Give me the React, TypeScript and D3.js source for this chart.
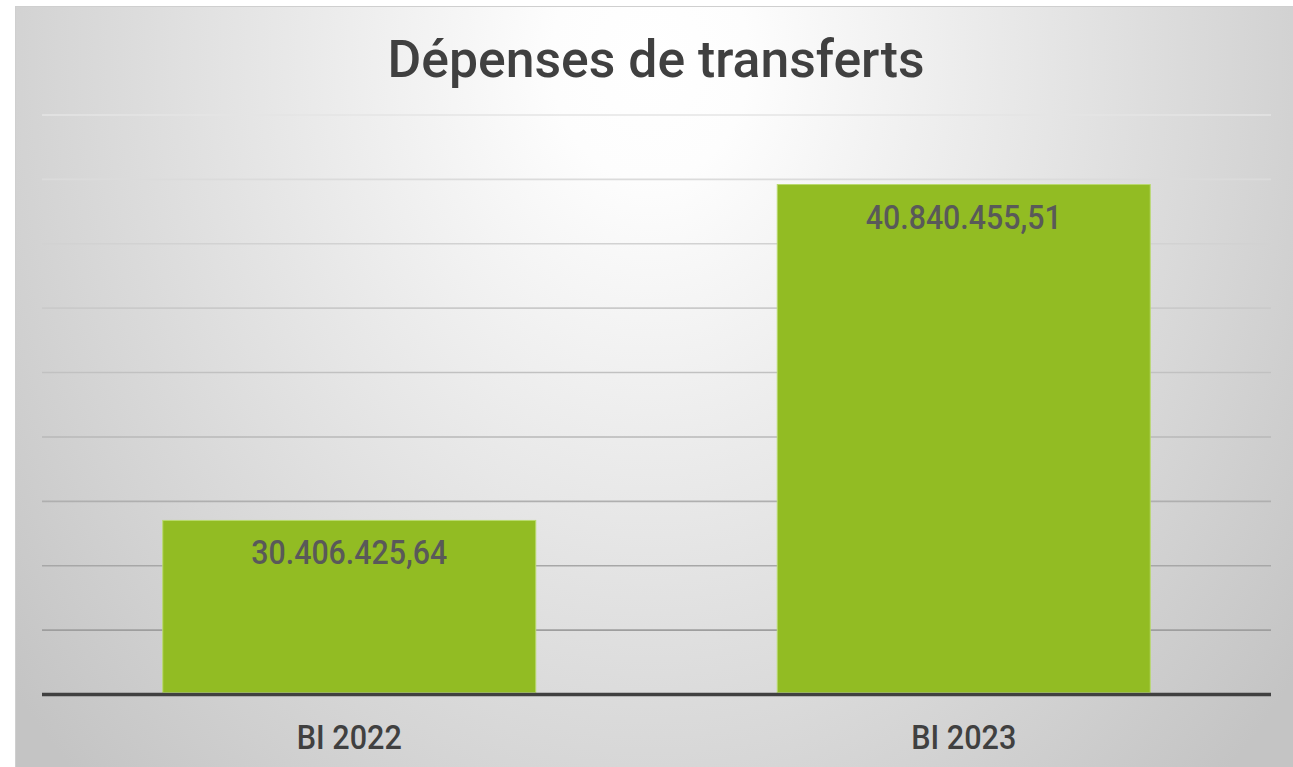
import React from "react";
import * as d3 from "d3";

const categories = ["BI 2022", "BI 2023"];
const values = [30406425.64, 40840455.51];
const valueLabels = ["30.406.425,64", "40.840.455,51"];
const yTicks = [25e6, 27e6, 29e6, 31e6, 33e6, 35e6, 37e6, 39e6, 41e6, 43e6];
const title = "Dépenses de transferts";

const W = 1293;
const H = 767;

export default function App() {
  const plotLeft = 42;
  const plotRight = 1271;
  const plotTop = 115;
  const plotBottom = 694.5;

  const x = d3
    .scaleBand<string>()
    .domain(categories)
    .range([plotLeft, plotRight])
    .paddingInner(0.393)
    .paddingOuter(0.1965);
  const y = d3.scaleLinear().domain([25e6, 43e6]).range([plotBottom, plotTop]);
  const gridColor = d3.scaleLinear<string>().domain([plotTop, plotBottom]).range(["#e4e4e4", "#959595"]);

  const font = "Roboto, 'DejaVu Sans', sans-serif";

  return (
    <svg
      width={W}
      height={H}
      viewBox={`0 0 ${W} ${H}`}
      style={{ position: "absolute", left: 0, top: 0, background: "#ffffff" }}
    >
      <defs>
        <radialGradient
          id="bg"
          gradientUnits="userSpaceOnUse"
          cx={650}
          cy={60}
          r={820}
          gradientTransform="translate(650,60) scale(1,1.22) translate(-650,-60)"
        >
          <stop offset="0" stopColor="#ffffff" />
          <stop offset="0.12" stopColor="#fdfdfd" />
          <stop offset="1" stopColor="#c4c4c4" />
        </radialGradient>
      </defs>
      <rect x={15.5} y={6.5} width={1290} height={770} fill="url(#bg)" stroke="#cfcfcf" strokeWidth={1} />

      <text
        x={656}
        y={77}
        textAnchor="middle"
        fontFamily={font}
        fontWeight={500}
        fontSize={52}
        fill="#404040"
        textLength={537}
        lengthAdjust="spacingAndGlyphs"
      >
        {title}
      </text>

      {yTicks.slice(1).map((t) => (
        <line
          key={t}
          x1={plotLeft}
          x2={plotRight}
          y1={y(t)}
          y2={y(t)}
          stroke={gridColor(y(t))}
          strokeWidth={1.6}
        />
      ))}

      {categories.map((c, i) => (
        <rect
          key={c}
          x={x(c)!}
          y={y(values[i])}
          width={x.bandwidth()}
          height={plotBottom - 2 - y(values[i])}
          fill="#92bc23"
          stroke="#b9da6e"
          strokeWidth={1}
        />
      ))}

      <line x1={plotLeft} x2={plotRight} y1={plotBottom} y2={plotBottom} stroke="#404040" strokeWidth={3.5} />

      {categories.map((c, i) => (
        <text
          key={c + "v"}
          x={x(c)! + x.bandwidth() / 2}
          y={y(values[i]) + 44}
          textAnchor="middle"
          fontFamily={font}
          fontWeight={500}
          fontSize={34}
          fill="#595959"
          textLength={196}
          lengthAdjust="spacingAndGlyphs"
        >
          {valueLabels[i]}
        </text>
      ))}

      {categories.map((c) => (
        <text
          key={c + "c"}
          x={x(c)! + x.bandwidth() / 2}
          y={749}
          textAnchor="middle"
          fontFamily={font}
          fontWeight={500}
          fontSize={33.5}
          fill="#404040"
          textLength={105}
          lengthAdjust="spacingAndGlyphs"
        >
          {c}
        </text>
      ))}
    </svg>
  );
}
